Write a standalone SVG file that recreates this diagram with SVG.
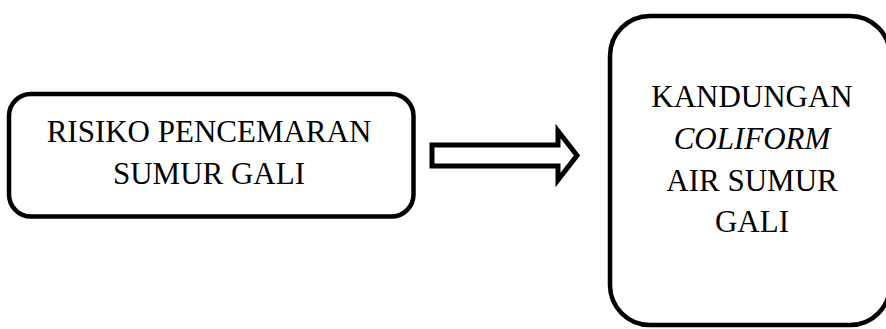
<svg xmlns="http://www.w3.org/2000/svg" width="886" height="329" viewBox="0 0 886 329">
  <style>
    .box { fill: #ffffff; stroke: #000000; stroke-width: 4.5; }
    .lbl { font-family: "Liberation Serif", "Times New Roman", serif; font-size: 31px; fill: #000000; text-anchor: middle; }
    .it { font-style: italic; }
    .arrow { fill: #ffffff; stroke: #000000; stroke-width: 5; stroke-linejoin: miter; }
  </style>
  <rect x="0" y="0" width="886" height="329" fill="#ffffff"/>
  <g id="node-risiko">
    <rect class="box" x="9" y="94" width="404.5" height="122.5" rx="22" ry="22"/>
    <text class="lbl" x="209" y="142">RISIKO PENCEMARAN</text>
    <text class="lbl" x="209" y="184">SUMUR GALI</text>
  </g>
  <g id="node-kandungan">
    <rect class="box" x="610" y="16" width="280" height="309" rx="40" ry="40"/>
    <text class="lbl" x="752" y="107">KANDUNGAN</text>
    <text class="lbl it" x="752" y="149">COLIFORM</text>
    <text class="lbl" x="752" y="191">AIR SUMUR</text>
    <text class="lbl" x="752" y="232">GALI</text>
  </g>
  <g id="connectors">
    <polygon class="arrow" points="432,145 558,145 558,131 577,155.5 558,180 558,166 432,166"/>
  </g>
</svg>
